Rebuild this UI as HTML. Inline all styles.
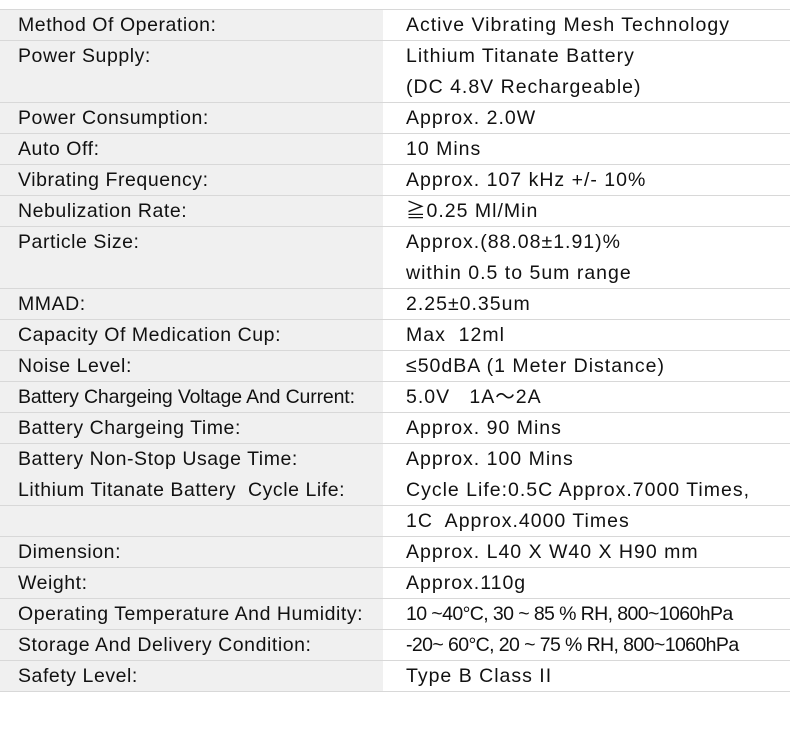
<!DOCTYPE html>
<html><head><meta charset="utf-8"><style>
body{margin:0;width:790px;height:735px;background:#fff;position:relative;overflow:hidden;font-family:"Liberation Sans","Noto Sans CJK SC",sans-serif;font-size:19.5px;color:#111}
.bg{position:absolute;left:0;top:9px;width:383px;height:682px;background:#f0f0f0}
.ln{position:absolute;left:0;width:790px;height:1px;background:#d8d8d8}
.t{position:absolute;white-space:pre;line-height:31px;margin-top:1px}
.L{letter-spacing:0.55px}
.R{letter-spacing:1px}
.L.c{letter-spacing:-0.15px}
.R.c{letter-spacing:-0.6px}
</style></head><body>
<div class="bg"></div>
<div id="c"></div>
<script>
var rows=[
["Method Of Operation:",["Active Vibrating Mesh Technology"]],
["Power Supply:",["Lithium Titanate Battery","(DC 4.8V Rechargeable)"]],
["Power Consumption:",["Approx. 2.0W"]],
["Auto Off:",["10 Mins"]],
["Vibrating Frequency:",["Approx. 107 kHz +/- 10%"]],
["Nebulization Rate:",["≧0.25 Ml/Min"]],
["Particle Size:",["Approx.(88.08±1.91)%","within 0.5 to 5um range"]],
["MMAD:",["2.25±0.35um"]],
["Capacity Of Medication Cup:",["Max  12ml"]],
["Noise Level:",["≤50dBA (1 Meter Distance)"]],
["*Battery Chargeing Voltage And Current:",["5.0V   1A～2A"]],
["Battery Chargeing Time:",["Approx. 90 Mins"]],
["Battery Non-Stop Usage Time:",["Approx. 100 Mins"],1],
["Lithium Titanate Battery  Cycle Life:",["Cycle Life:0.5C Approx.7000 Times,"]],
["",["1C  Approx.4000 Times"]],
["Dimension:",["Approx. L40 X W40 X H90 mm"]],
["Weight:",["Approx.110g"]],
["Operating Temperature And Humidity:",["*10 ~40°C, 30 ~ 85 % RH, 800~1060hPa"]],
["Storage And Delivery Condition:",["*-20~ 60°C, 20 ~ 75 % RH, 800~1060hPa"]],
["Safety Level:",["Type B Class II"]]
];
var h='',y=9,R=31;
h+='<div class="ln" style="top:'+y+'px"></div>';
rows.forEach(function(r){
 var l=r[0],cl='';
 if(l[0]=='*'){l=l.slice(1);cl=' c';}
 h+='<div class="t L'+cl+'" style="left:18px;top:'+y+'px">'+l+'</div>';
 r[1].forEach(function(v,i){var c2='';if(v[0]=='*'){v=v.slice(1);c2=' c';}
  h+='<div class="t R'+c2+'" style="left:406px;top:'+(y+i*R)+'px">'+v+'</div>';});
 y+=R*r[1].length;
 if(!r[2])h+='<div class="ln" style="top:'+y+'px"></div>';
});
document.getElementById('c').innerHTML=h;
</script>
</body></html>
